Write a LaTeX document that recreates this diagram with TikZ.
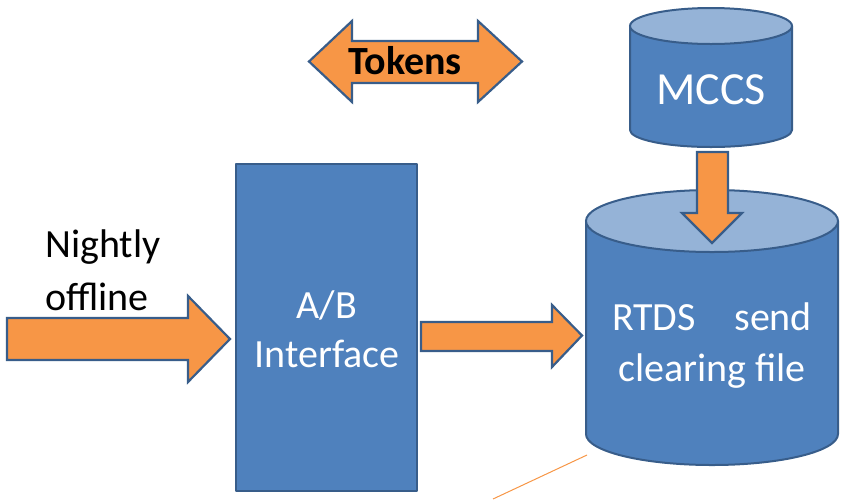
\documentclass[tikz,border=0pt]{standalone}
\usepackage{fontspec}
\setmainfont{Carlito}
\definecolor{boxblue}{HTML}{4F81BD}
\definecolor{edgeblue}{HTML}{385D8A}
\definecolor{topblue}{HTML}{95B3D7}
\definecolor{arroworange}{HTML}{F79646}
\tikzset{
  bluebody/.style={fill=boxblue, draw=edgeblue, line width=2pt, line join=round},
  bluetop/.style={fill=topblue, draw=edgeblue, line width=2pt},
  blockarrow/.style={fill=arroworange, draw=edgeblue, line width=2.2pt, line join=miter},
  whitetext/.style={text=white, font=\fontsize{40}{48}\selectfont, align=center, inner sep=0pt},
  blacktext/.style={text=black, font=\fontsize{40}{48}\selectfont, inner sep=0pt},
}
\begin{document}
\begin{tikzpicture}[x=1pt,y=-1pt]
\useasboundingbox (0,0) rectangle (846,499);
% A/B Interface box
\node[bluebody, minimum width=181pt, minimum height=327pt, anchor=north west, inner sep=0pt] (ab) at (235,163) {};
\node[whitetext] (abtext) at (327,329) {A/B\\[1pt]Interface};
% RTDS cylinder
\path[bluebody] (586,221) -- (586,434) arc[start angle=180, end angle=0, x radius=126, y radius=31] -- (838,221) -- cycle;
\path[bluetop] (712,221) ellipse[x radius=126, y radius=31];
\node[whitetext, minimum width=252pt] (rtds) at (712,346) {\makebox[200pt][s]{RTDS\hfill send}\\[3pt]clearing file};
% MCCS cylinder
\path[bluebody] (630,26) -- (630,130) arc[start angle=180, end angle=0, x radius=81, y radius=17] -- (792,26) -- cycle;
\path[bluetop] (711,26) ellipse[x radius=81, y radius=18];
\node[whitetext, font=\fontsize{46}{54}\selectfont] (mccs) at (711,90) {MCCS};
% arrow MCCS -> RTDS
\path[blockarrow] (697,152) -- (728,152) -- (728,213) -- (742,213) -- (712,243) -- (682,213) -- (697,213) -- cycle;
% arrow A/B -> RTDS
\path[blockarrow] (421,322) -- (552,322) -- (552,305) -- (582,335.5) -- (552,367) -- (552,351) -- (421,351) -- cycle;
% incoming arrow
\path[blockarrow] (7,318) -- (188,318) -- (188,296) -- (230,339) -- (188,382) -- (188,360) -- (7,360) -- cycle;
\node[blacktext, anchor=west] (nightly) at (45,247) {Nightly};
\node[blacktext, anchor=west] (offline) at (45,297) {offline};
% Tokens double arrow
\path[blockarrow] (309,61.5) -- (352,21) -- (352,41) -- (478,41) -- (478,21) -- (522,61.5) -- (478,102) -- (478,83) -- (352,83) -- (352,102) -- cycle;
\node[blacktext, font=\bfseries\fontsize{40}{48}\selectfont] (tokens) at (405,61) {Tokens};
% thin orange line
\coordinate (lineA) at (493,499);
\coordinate (lineB) at (587,455);
\draw[arroworange, line width=1pt] (lineA) -- (lineB);
\end{tikzpicture}
\end{document}
